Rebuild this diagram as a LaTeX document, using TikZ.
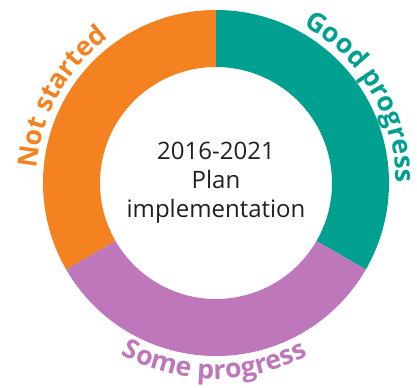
\documentclass[tikz,border=0pt]{standalone}
\usepackage{fontspec}
\setmainfont{Open Sans}
\usetikzlibrary{decorations.text}

\definecolor{notstarted}{HTML}{F58220}
\definecolor{goodprog}{HTML}{00A091}
\definecolor{someprog}{HTML}{BE77BA}
\definecolor{titlegray}{HTML}{231F20}
\newcommand\arcfont{\fontsize{20}{20}\selectfont\bfseries}

\begin{document}
\begin{tikzpicture}[x=0.75pt, y=0.75pt,
  arclabel/.style={decorate, decoration={text along path, text align=center, #1}}]
  \useasboundingbox (-216,-204) rectangle (201,183);
  % ring segments
  \fill[notstarted] (90:173) arc (90:210:173) -- (210:116) arc (210:90:116) -- cycle;
  \fill[goodprog] (90:173) arc (90:-30:173) -- (-30:116) arc (-30:90:116) -- cycle;
  \fill[someprog] (210:173) arc (210:330:173) -- (330:116) arc (330:210:116) -- cycle;
  \node[align=center, font=\fontsize{18}{21.75}\selectfont, text=titlegray] (title) at (0,0) {2016-2021\\Plan\\implementation};
  % labels round the ring
  \path[arclabel={text={|\arcfont\color{notstarted}|Not started}}] (201:180) arc (201:101:180);
  \path[arclabel={text={|\arcfont\color{goodprog}|Good progress}}] (80.5:180) arc (80.5:-19.5:180);
  \path[arclabel={text={|\arcfont\color{someprog}|Some progress}}] (219.5:196) arc (219.5:319.5:196);
\end{tikzpicture}
\end{document}
